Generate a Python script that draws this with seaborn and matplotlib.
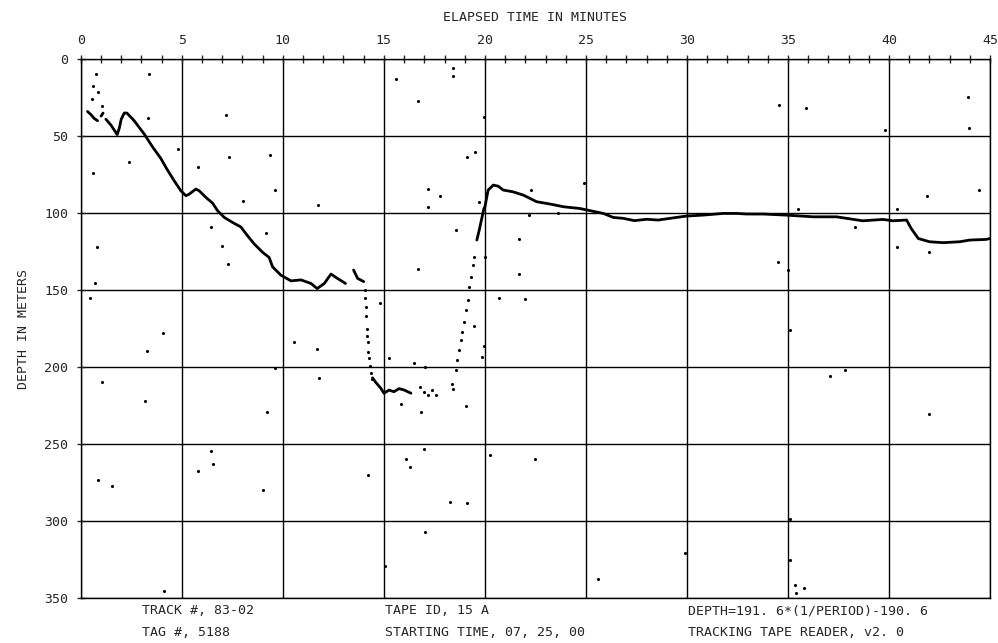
import pandas as pd
import matplotlib
matplotlib.use("Agg")
import matplotlib.pyplot as plt
import seaborn as sns

# main dive track (minutes, metres)
track_min = [0.33, 0.5, 0.66, 0.83,
             1.0, 1.1,
             1.24, 1.5, 1.73, 1.8, 1.9, 2.0, 2.15, 2.28, 2.64, 3.14, 3.55, 3.96, 4.26, 4.62,
             4.95, 5.2, 5.36, 5.69, 5.86, 6.19, 6.52, 6.77, 7.1, 7.5, 7.92, 8.25, 8.58, 9.0,
             9.32, 9.49, 9.9, 10.4, 10.9, 11.39, 11.7, 12.05, 12.38, 12.7, 13.1,
             13.5, 13.7, 14.0,
             14.44, 14.6, 14.85, 15.0, 15.25, 15.5, 15.75, 16.0, 16.34,
             19.6, 19.72, 19.95, 20.0, 20.16, 20.33, 20.41, 20.66, 20.9, 21.4, 21.9, 22.56,
             23.22, 23.9, 24.7, 25.2, 25.86, 26.35, 26.85, 27.4, 28.0, 28.58, 29.16, 29.98,
             30.8, 31.8, 32.46, 32.95, 33.78, 34.9, 36.25, 37.4, 38.7, 39.7, 40.2, 40.87,
             41.1, 41.45, 42.0, 42.68, 43.5, 44.0, 44.8, 45.0]
track_depth = [34, 36, 38.5, 40,
               37, 35,
               39, 43, 47.6, 49, 45, 39, 35, 35, 40, 48.7, 57, 64.5, 71.4, 79,
               85.5, 88.7, 87.7, 84.4, 85.5, 89.8, 93.5, 98.5, 102.8, 106, 109, 114.7, 120, 125.5,
               128.8, 134.9, 140.3, 144, 143.4, 145.7, 149, 145.7, 139.6, 142.4, 145.7,
               137, 142.4, 144.5,
               207, 210, 213.8, 217, 215, 216, 214, 214.9, 217,
               117.5, 111, 97, 95.9, 85, 82.9, 81.8, 82.5, 85, 86.2, 88.3, 92.6,
               94.1, 95.9, 97, 98.4, 100.2, 102.8, 103.4, 104.9, 104, 104.5, 103.4, 101.9,
               101.3, 100.2, 100.2, 100.6, 100.6, 101.3, 102.4, 102.4, 105, 104.1, 105, 104.5,
               110, 116.5, 118.6, 119.2, 118.6, 117.5, 117.1, 116.5]
track_seg = [1] * 4 + [2] * 2 + [3] * 39 + [4] * 3 + [5] * 9 + [6] * 44

# sparse fixes: descent, bottom blobs, ascent
fix_min = [14.05, 14.08, 14.1, 14.12, 14.15, 14.18, 14.2, 14.23, 14.27, 14.32, 14.36, 14.4,
           16.8, 17.0, 17.16, 17.4, 17.57, 18.35, 18.4,
           18.56, 18.64, 18.73, 18.81, 18.89, 18.98, 19.06, 19.14, 19.22, 19.31, 19.39, 19.47]
fix_depth = [150, 155, 161, 167, 175, 180, 184, 190, 194, 199, 204, 208,
             212.7, 216, 218, 215, 218, 211, 214,
             202, 195.5, 189, 182.6, 177.2, 170.6, 163, 156.5, 147.9, 141.4, 133.8, 128.4]

# stray points
stray_min = [0.74, 0.61, 0.83, 0.53, 1.04, 3.38, 3.3, 7.2, 4.79, 2.39, 0.58, 7.31, 5.82, 9.36,
             9.62, 8.05, 6.44, 9.16, 7.01, 0.79, 0.71, 0.46, 7.26, 4.08, 3.25, 1.04, 3.18, 9.2,
             10.56, 11.7, 9.6, 11.8, 14.8, 16.67, 21.67, 20.7, 22.0, 19.47, 19.97, 19.85, 15.23,
             16.5, 17.03, 15.84, 16.86, 19.06, 17.0, 20.25, 22.5, 16.1, 16.3, 6.44, 6.52, 5.78,
             0.86, 1.52, 9.04, 14.19, 18.27, 19.13, 17.05, 4.13, 15.05,
             15.6, 16.7, 18.4, 18.4, 19.95, 11.75, 17.2, 17.16, 17.8, 18.55, 20.0, 19.09, 19.5,
             24.9, 19.72, 21.7, 22.28, 23.6, 22.2, 34.55, 35.9, 43.9, 39.8, 43.96, 41.86, 44.45,
             40.4, 42.0, 40.4, 38.3, 35.5, 34.5, 35.0, 37.1, 37.8, 35.1, 42.0, 25.6, 35.33, 35.8,
             35.4, 35.1, 35.1, 29.9]
stray_depth = [9.5, 17.3, 21.6, 26, 30.7, 9.5, 38, 36.4, 58.4, 66.7, 74.2, 63.4, 70.1, 62.1,
               84.8, 92, 109.3, 113.2, 121.2, 121.9, 145.2, 155, 133.1, 178.1, 189.6, 209.9, 221.9, 228.9,
               183.5, 188.1, 200.4, 207.3, 158.7, 136.6, 139.6, 155.4, 156, 173.4, 186.4, 193.3, 193.9,
               197.6, 200.2, 224.3, 229.4, 225.1, 253.5, 257.2, 260, 259.6, 265.2, 254.5, 263, 267.7,
               273.3, 277, 280, 270, 287.9, 288.3, 306.9, 345.4, 329.2,
               13, 27, 6, 11, 37.6, 94.8, 84.6, 95.9, 88.7, 111, 128.4, 63.8, 60,
               80.3, 92.6, 116.5, 85, 99.8, 101.3, 30, 32, 24.7, 46, 44.8, 88.7, 85,
               121.9, 125, 97.4, 109.3, 97.4, 132, 137, 205.8, 202, 176, 230.5, 337.7, 341.6, 343.7,
               346.8, 299, 325, 320.8]

x_ticks = [0, 5, 10, 15, 20, 25, 30, 35, 40, 45]
y_ticks = [0, 50, 100, 150, 200, 250, 300, 350]

track = pd.DataFrame({'t': track_min, 'depth': track_depth, 'seg': track_seg})
fixes = pd.DataFrame({'t': fix_min + stray_min, 'depth': fix_depth + stray_depth})

sns.set_style("white")
plt.rcParams['font.family'] = ['DejaVu Sans Mono']

fig = plt.figure(figsize=(9.98, 6.43), dpi=100)
ax = fig.add_axes([0.081, 0.070, 0.911, 0.838])

sns.lineplot(data=track, x='t', y='depth', units='seg', estimator=None, sort=False,
             color='black', linewidth=2.0, ax=ax)
sns.scatterplot(data=fixes, x='t', y='depth', color='black', s=5, linewidth=0, ax=ax)

ax.set_xlim(0, 45)
ax.set_ylim(350, 0)
ax.xaxis.tick_top()
ax.xaxis.set_label_position('top')
ax.set_xticks(x_ticks)
ax.set_xticks(range(0, 46), minor=True)
ax.set_yticks(y_ticks)
ax.grid(True, which='major', color='black', linewidth=1.0)
ax.tick_params(axis='x', which='both', direction='inout', length=6, width=1, top=True,
               bottom=False, labelsize=9.5, pad=6)
ax.tick_params(axis='y', which='major', direction='inout', length=6, width=1, left=True,
               labelsize=9.5, pad=6)
for s in ax.spines.values():
    s.set_color('black')
    s.set_linewidth(1.0)

ax.set_xlabel('ELAPSED TIME IN MINUTES', fontsize=9.5, labelpad=9)
ax.set_ylabel('DEPTH IN METERS', fontsize=9.5, labelpad=10)

fs = 9.5
fig.text(142 / 998, 1 - 611 / 643, 'TRACK #, 83-02', fontsize=fs, va='center')
fig.text(142 / 998, 1 - 633 / 643, 'TAG #, 5188', fontsize=fs, va='center')
fig.text(385 / 998, 1 - 611 / 643, 'TAPE ID, 15 A', fontsize=fs, va='center')
fig.text(385 / 998, 1 - 633 / 643, 'STARTING TIME, 07, 25, 00', fontsize=fs, va='center')
fig.text(688 / 998, 1 - 611 / 643, 'DEPTH=191. 6*(1/PERIOD)-190. 6', fontsize=fs, va='center')
fig.text(688 / 998, 1 - 633 / 643, 'TRACKING TAPE READER, v2. 0', fontsize=fs, va='center')

fig.savefig('out.png', dpi=100)
